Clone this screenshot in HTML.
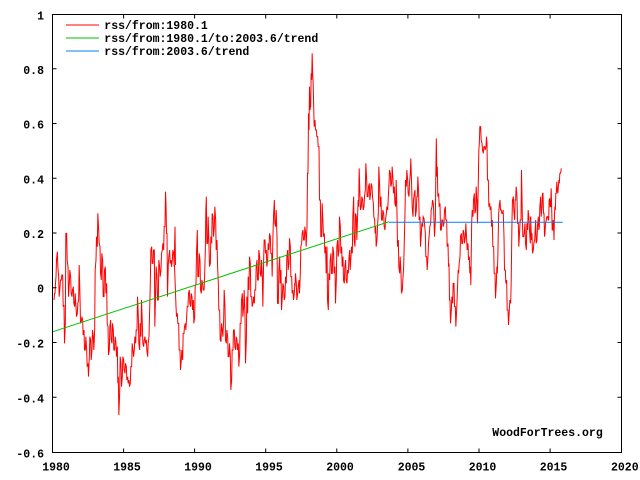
<!DOCTYPE html>
<html>
<head>
<meta charset="utf-8">
<style>
html,body{margin:0;padding:0;background:#fff;}
svg{display:block;}
text{font-family:"Liberation Mono","DejaVu Sans Mono",monospace;font-size:11.5px;font-weight:bold;fill:#000;}
</style>
</head>
<body>
<svg width="640" height="480" viewBox="0 0 640 480" xmlns="http://www.w3.org/2000/svg">
<rect x="0" y="0" width="640" height="480" fill="#fff"/>

<!-- data series (red) -->
<g fill="none" stroke="#ff0000" stroke-width="3" stroke-linejoin="miter">
<g transform="translate(50,150) scale(0.3333333)">
<polyline points="12,450 13.5,430 15,430 16.5,400 18,380 19.5,330 22,305 23.5,350 26,380 27.5,440 30,410 31.5,390 34,390 35.5,375 38,375 39.5,470 42,465 43.5,580 46,520 47.5,250 50,250 51.5,330 54,350 55.5,440 58,400 59.5,360 62,380 63.5,430 66,440 67.5,420 70,410 71.5,460 74,470 75.5,430 78,470 79.5,500 82,490 83.5,460 86,450 87.5,345 90,440 91.5,520 94,515 95.5,500 98,510 99.5,555 102,540 103.5,600 106,600 107.5,560 110,600 111.5,650 114,640 115.5,680 118,620 119.5,560 122,570 123.5,630 126,600 127.5,540 130,560 131.5,600 134,540 135.5,360 138,330 139.5,260 142,290 143.5,190 146,240 147.5,280 150,290 151.5,370 154,390 155.5,310 158,330 159.5,440 162,440 163.5,360 166,350 167.5,430 170,400 171.5,520 174,530 175.5,615 178,600 179.5,530 182,510 183.5,570 186,580 187.5,520 190,540 191.5,600 194,600 195.5,560 198,580 199.5,620 202,590 203.5,700 205,680 206.5,795 209,730 210.5,620 213,640 214.5,710 217,680 218.5,620 221,630 222.5,660 225,670 226.5,640 229,650 230.5,690 233,680 234.5,700 237,690 238.5,710 241,700 242.5,650 245,650 246.5,580 249,600 250.5,620 253,600 254.5,560 257,580 258.5,540 261,540 262.5,440 265,500 266.5,580 269,600 270.5,520 273,560 274.5,450 277,520 278.5,580 281,590 282.5,570 285,560 286.5,580 289,570 290.5,600 293,620 294.5,580 297,560 298.5,500 301,400 302.5,300 305,290 306.5,340 309,340 310.5,300 313,300 314.5,530 317,420 318.5,350 321,380 322.5,450 325,450 326.5,330 329,350 330.5,380 333,360 334.5,310 337,300 338.5,280 341,300 342.5,230 345,230 346.5,125 348,160 349.5,250 351,250 352.5,440 355,340 356.5,320 359,300 360.5,340 363,330 364.5,350 367,330 368.5,300 371,310 372.5,350 375,230 376.5,345"/>
</g>
<g transform="translate(175,150) scale(0.3333333)">
<polyline points="-1.5,345 3,470 4.5,500 7,490 8.5,520 11,520 12.5,600 15,600 16.5,660 19,630 20.5,600 23,630 24.5,550 27,550 28.5,530 31,520 32.5,540 35,500 36.5,470 39,470 40.5,430 43,420 44.5,460 47,470 48.5,430 51,440 52.5,480 55,450 56.5,520 59,500 60.5,410 63,400 64.5,310 67,240 68.5,380 71,380 72.5,310 75,330 76.5,420 79,430 80.5,390 83,400 84.5,420 87,420 88.5,390 91,300 92.5,180 94,140 95.5,280 98,280 99.5,200 102,290 103.5,350 106,340 107.5,260 110,280 111.5,190 114,200 115.5,260 118,230 119.5,170 122,210 123.5,300 126,270 127.5,340 130,400 131.5,480 134,480 135.5,570 138,575 139.5,520 142,540 143.5,560 146,510 147.5,420 150,470 151.5,570 154,580 155.5,540 158,560 159.5,620 162,620 163.5,580 166,620 167.5,720 170,690 171.5,600 174,600 175.5,540 178,540 179.5,590 182,600 183.5,560 186,570 187.5,600 190,580 191.5,650 194,610 195.5,520 198,520 199.5,450 202,430 203.5,500 206,470 207.5,420 210,500 211.5,640 214,570 215.5,440 218,490 219.5,380 222,420 223.5,320 226,340 227.5,440 230,440 231.5,470 234,460 235.5,440 238,460 239.5,420 242,420 243.5,350 246,330 247.5,390 250,390 251.5,300 254,320 255.5,370 258,380 259.5,330 262,380 263.5,470 266,330 267.5,270 270,270 271.5,310 274,300 275.5,350 278,330 279.5,280 282,300 283.5,250 286,260 287.5,310 290,310 291.5,380 294,250 295.5,200 298,150 299.5,220 302,230 303.5,180 306,260 307.5,460 310,460 311.5,360 314,320 315.5,400 318,360 319.5,480 322,440 323.5,400 326,410 327.5,450 330,440 331.5,380 334,400 335.5,320 338,300 339.5,360 342,340 343.5,265 346,290 347.5,380 350,380 351.5,430 354,420 355.5,450 358,430 359.5,400"/>
</g>
<g transform="translate(295,40) scale(0.3333333)">
<polyline points="-1.5,730 0,740 1.5,700 4,730 5.5,780 8,760 9.5,740 12,720 13.5,760 16,700 17.5,620 20,610 21.5,580 24,570 25.5,600 28,600 29.5,560 32,580 33.5,620 36,560 37.5,400 39,400 40.5,220 42,270 43.5,140 45,210 46.5,200 47,200 48.5,100 50,120 51.5,40 53,100 54.5,130 56,200 57.5,260 60,240 61.5,270 64,270 65.5,290 68,290 69.5,320 72,320 73.5,480 76,480 77.5,590 80,590 81.5,490 84,550 85.5,590 88,580 89.5,640 92,620 93.5,700 96,620 97.5,780 100,810 101.5,700 104,720 105.5,660 108,640 109.5,700 112,700 113.5,620 116,640 117.5,700 120,680 121.5,790 124,720 125.5,620 128,600 129.5,650 132,630 133.5,530 136,560 137.5,640 140,620 141.5,680 144,650 145.5,720 148,730 149.5,680 152,660 153.5,720 156,730 157.5,690 160,700 161.5,660 164,630 165.5,690 168,650 169.5,620 172,640 173.5,530 176,470 177.5,600 180,620 181.5,520 184,530 185.5,600 188,520 189.5,480 191,500 192.5,385 195,470 196.5,510 199,500 200.5,470 203,480 204.5,510 207,500 208.5,470 211,450 212.5,370 215,420 216.5,470 219,470 220.5,440 223,430 224.5,480 227,460 228.5,430 231,440 232.5,470 235,490 236.5,530 239,540 240.5,580 242,560 243.5,620 246,600 247.5,560 250,520 251.5,380 254,440 255.5,500 258,470 259.5,540 262,540 263.5,510 266,520 267.5,560 270,570 271.5,540 274,520 275.5,500 278,510 279.5,480 282,430 283.5,390 286,400 287.5,440 290,430 291.5,380 294,420 295.5,460 298,440 299.5,490 302,500 303.5,420 306,520 307.5,620 310,600 311.5,680 314,700 315.5,650 318,700 319.5,760 322,750 323.5,720 326,680 327.5,620 330,520 331.5,420 334,440 335.5,390 338,420 339.5,460 342,470 343.5,430 346,400 347.5,355 350,440 351.5,500 354,530 355.5,480 358,460"/>
</g>
<g transform="translate(415,110) scale(0.3333333)">
<polyline points="-2,250 0,240 1.5,320 4,300 5.5,260 7,260 8.5,200 11,250 12.5,330 15,320 16.5,410 19,370 20.5,340 23,350 24.5,320 27,325 28.5,340 31,370 32.5,440 35,440 36.5,480 39,440 40.5,400 43,370 44.5,350 47,340 48.5,300 51,290 52.5,270 54,275 55.5,290 57,330 58.5,380 61,330 62.5,190 64,85 65.5,200 67,170 68.5,260 71,250 72.5,290 75,280 76.5,360 79,360 80.5,330 83,330 84.5,350 87,340 88.5,300 91,290 92.5,330 95,330 96.5,410 99,400 100.5,470 102,460 103.5,570 105,570 106.5,640 109,600 110.5,560 113,580 114.5,520 117,520 118.5,590 121,590 122.5,650 125,600 126.5,560 128,520 129.5,480 131,490 132.5,460 135,440 136.5,380 139,370 140.5,400 143,400 144.5,360 147,370 148.5,400 151,380 152.5,340 155,390 156.5,420 159,400 160.5,450 163,440 164.5,490 166,470 167.5,525 170,340 171.5,300 174,320 175.5,270 178,250 179.5,310 182,300 183.5,230 186,280 187.5,340 190,210 191.5,120 193,100 194.5,50 197,50 198.5,90 201,100 202.5,120 205,130 206.5,110 209,110 210.5,120 213,110 214.5,80 216,100 217.5,210 220,210 221.5,290 224,280 225.5,300 228,290 229.5,350 232,330 233.5,410 236,410 237.5,490 240,490 241.5,565 244,520 245.5,470 247,490 248.5,440 251,310 252.5,290 255,270 256.5,300 259,300 260.5,310 263,310 264.5,300 267,380 268.5,480 271,480 272.5,520 275,510 276.5,600 279,600 280.5,645 283,600 284.5,570 287,580 288.5,520 291,330 292.5,270 295,260 296.5,300 299,330 300.5,270 302,270 303.5,230 306,260 307.5,340 310,340 311.5,410 314,360 315.5,330 318,330 319.5,180 322,320 323.5,380 326,380 327.5,370 330,340 331.5,400 334,420 335.5,340 338,360 339.5,300 342,330 343.5,360 346,400 347.5,320"/>
</g>
<g transform="translate(530,140) scale(0.3333333)">
<polyline points="1,230 3,260 4.5,300 6,280 7.5,340 10,330 11.5,310 14,300 15.5,270 17,240 18.5,310 21,300 22.5,260 25,230 26.5,270 28,260 29.5,200 32,170 33.5,230 36,200 37.5,160 39,160 40.5,220 42,220 43.5,290 45,280 46.5,250 49,240 50.5,230 53,230 54.5,240 56,240 57.5,180 59,175 60.5,200 62,200 63.5,145 65,200 66.5,270 68,270 69.5,240 71,260 72,300 73,240 74.5,200 76,210 77.5,160 79,160 80.5,125 82,150 83.5,160 85,140 86.5,120 88,130 89.5,100 91,100 92.5,95 94,85"/>
</g>
</g>

<!-- trend lines -->
<line x1="53" y1="331.7" x2="389" y2="221.7" stroke="#00c000" stroke-width="1"/>
<line x1="389" y1="222.3" x2="562.7" y2="222.2" stroke="#0080ff" stroke-width="1"/>

<!-- border -->
<rect x="52.5" y="14.5" width="569" height="438" fill="none" stroke="#000" stroke-width="1"/>

<!-- ticks -->
<g stroke="#000" stroke-width="1">
<!-- x ticks bottom & top -->
<path d="M123.6,452.5v-4 M194.6,452.5v-4 M265.7,452.5v-4 M336.8,452.5v-4 M407.9,452.5v-4 M479,452.5v-4 M550.1,452.5v-4
M123.6,14.5v4 M194.6,14.5v4 M265.7,14.5v4 M336.8,14.5v4 M407.9,14.5v4 M479,14.5v4 M550.1,14.5v4"/>
<!-- y ticks left & right -->
<path d="M52.5,68.75h4 M52.5,123.5h4 M52.5,178.25h4 M52.5,233h4 M52.5,287.75h4 M52.5,342.5h4 M52.5,397.25h4
M621.5,68.75h-4 M621.5,123.5h-4 M621.5,178.25h-4 M621.5,233h-4 M621.5,287.75h-4 M621.5,342.5h-4 M621.5,397.25h-4"/>
</g>

<!-- y labels -->
<g text-anchor="end">
<text x="44" y="19.5">1</text>
<text x="44" y="74">0.8</text>
<text x="44" y="128.5">0.6</text>
<text x="44" y="183.5">0.4</text>
<text x="44" y="238">0.2</text>
<text x="44" y="292.5">0</text>
<text x="44" y="347.5">-0.2</text>
<text x="44" y="402.5">-0.4</text>
<text x="44" y="457.5">-0.6</text>
</g>

<!-- x labels -->
<g text-anchor="middle">
<text x="56" y="470.5">1980</text>
<text x="127" y="470.5">1985</text>
<text x="198" y="470.5">1990</text>
<text x="269" y="470.5">1995</text>
<text x="340" y="470.5">2000</text>
<text x="411.5" y="470.5">2005</text>
<text x="482.5" y="470.5">2010</text>
<text x="553.5" y="470.5">2015</text>
<text x="624.8" y="470.5">2020</text>
</g>

<!-- legend -->
<line x1="66" y1="25" x2="99" y2="25" stroke="#ff0000" stroke-width="1"/>
<line x1="66" y1="38" x2="99" y2="38" stroke="#00c000" stroke-width="1"/>
<line x1="66" y1="51" x2="99" y2="51" stroke="#0080ff" stroke-width="1"/>
<text x="104.3" y="29">rss/from:1980.1</text>
<text x="104.3" y="42">rss/from:1980.1/to:2003.6/trend</text>
<text x="104.3" y="55">rss/from:2003.6/trend</text>

<!-- watermark -->
<text x="492.3" y="436">WoodForTrees.org</text>
</svg>
</body>
</html>
